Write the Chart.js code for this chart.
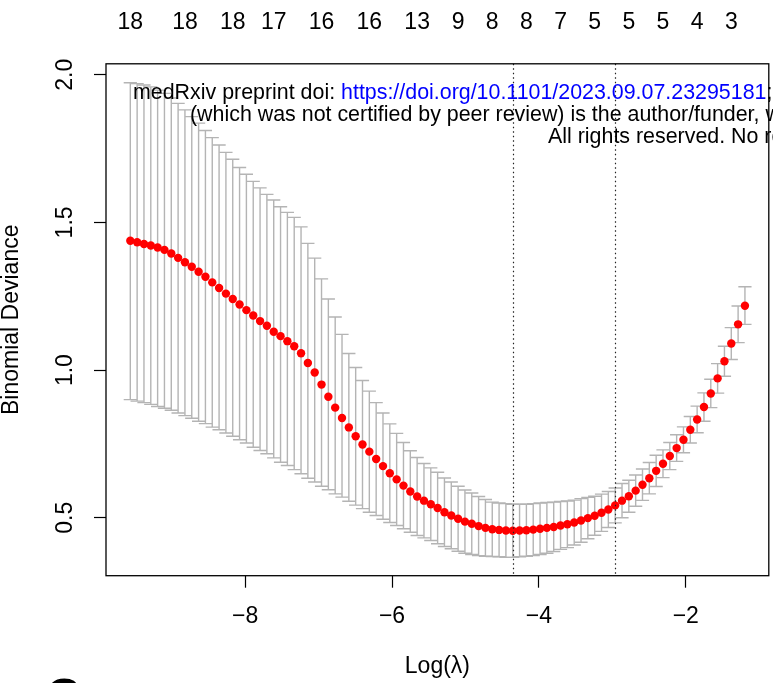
<!DOCTYPE html>
<html>
<head>
<meta charset="utf-8">
<title>cv.glmnet binomial deviance</title>
<script src="https://cdn.jsdelivr.net/npm/chart.js@4.4.1/dist/chart.umd.min.js"></script>
<style>
    html, body { margin: 0; padding: 0; background: #fff; }
    #wrap { width: 773px; height: 683px; }
</style>
</head>
<body>
<div id="wrap"><canvas id="cv" width="773" height="683"></canvas></div>
<script>
// Data
const logLambda = [
    -9.564, -9.471, -9.378, -9.285, -9.192, -9.099, -9.006, -8.913, -8.820, -8.727,
    -8.634, -8.541, -8.448, -8.355, -8.262, -8.169, -8.076, -7.983, -7.890, -7.797,
    -7.704, -7.611, -7.518, -7.425, -7.332, -7.239, -7.146, -7.053, -6.960, -6.867,
    -6.774, -6.681, -6.588, -6.495, -6.402, -6.309, -6.216, -6.123, -6.030, -5.937,
    -5.844, -5.751, -5.658, -5.565, -5.472, -5.379, -5.286, -5.193, -5.100, -5.007,
    -4.914, -4.821, -4.728, -4.635, -4.542, -4.449, -4.356, -4.263, -4.170, -4.077,
    -3.984, -3.891, -3.798, -3.705, -3.612, -3.519, -3.426, -3.333, -3.240, -3.147,
    -3.054, -2.961, -2.868, -2.775, -2.682, -2.589, -2.496, -2.403, -2.310, -2.217,
    -2.124, -2.031, -1.938, -1.845, -1.752, -1.659, -1.566, -1.473, -1.380, -1.287,
    -1.194
];

const cvMean = [
    1.438, 1.433, 1.427, 1.422, 1.415, 1.407, 1.395, 1.380, 1.365, 1.350,
    1.333, 1.316, 1.297, 1.278, 1.259, 1.241, 1.222, 1.203, 1.185, 1.166,
    1.150, 1.130, 1.115, 1.098, 1.081, 1.057, 1.024, 0.992, 0.951, 0.910,
    0.873, 0.838, 0.806, 0.776, 0.748, 0.724, 0.699, 0.675, 0.651, 0.630,
    0.609, 0.589, 0.572, 0.558, 0.546, 0.533, 0.519, 0.508, 0.497, 0.487,
    0.480, 0.472, 0.466, 0.461, 0.459, 0.457, 0.456, 0.457, 0.458, 0.460,
    0.463, 0.466, 0.469, 0.474, 0.478, 0.484, 0.491, 0.499, 0.507, 0.517,
    0.528, 0.542, 0.558, 0.573, 0.592, 0.612, 0.634, 0.659, 0.683, 0.709,
    0.736, 0.764, 0.798, 0.833, 0.875, 0.921, 0.972, 1.030, 1.090, 1.155,
    1.218
];

const cvUpper = [
    1.973, 1.970, 1.965, 1.959, 1.948, 1.937, 1.921, 1.903, 1.881, 1.858,
    1.836, 1.811, 1.787, 1.762, 1.737, 1.714, 1.686, 1.663, 1.639, 1.617,
    1.595, 1.576, 1.553, 1.534, 1.517, 1.485, 1.429, 1.379, 1.309, 1.241,
    1.180, 1.121, 1.056, 1.009, 0.965, 0.929, 0.890, 0.855, 0.818, 0.786,
    0.755, 0.727, 0.704, 0.684, 0.669, 0.654, 0.635, 0.621, 0.607, 0.594,
    0.584, 0.572, 0.562, 0.553, 0.550, 0.548, 0.546, 0.546, 0.546, 0.548,
    0.550, 0.552, 0.553, 0.555, 0.557, 0.560, 0.565, 0.569, 0.573, 0.580,
    0.589, 0.601, 0.616, 0.627, 0.645, 0.665, 0.687, 0.712, 0.730, 0.755,
    0.781, 0.808, 0.843, 0.878, 0.923, 0.969, 1.022, 1.081, 1.144, 1.217,
    1.282
];

const cvLower = [
    0.900, 0.895, 0.890, 0.884, 0.877, 0.871, 0.864, 0.855, 0.846, 0.837,
    0.827, 0.819, 0.807, 0.798, 0.787, 0.776, 0.764, 0.753, 0.739, 0.728,
    0.717, 0.703, 0.688, 0.677, 0.663, 0.649, 0.634, 0.621, 0.607, 0.595,
    0.581, 0.570, 0.556, 0.543, 0.531, 0.519, 0.508, 0.495, 0.484, 0.474,
    0.463, 0.451, 0.440, 0.432, 0.423, 0.412, 0.403, 0.395, 0.387, 0.380,
    0.376, 0.372, 0.370, 0.369, 0.368, 0.366, 0.366, 0.368, 0.370, 0.372,
    0.376, 0.380, 0.386, 0.393, 0.399, 0.408, 0.417, 0.429, 0.441, 0.454,
    0.467, 0.483, 0.500, 0.519, 0.539, 0.559, 0.581, 0.606, 0.636, 0.663,
    0.691, 0.720, 0.753, 0.788, 0.827, 0.873, 0.922, 0.979, 1.036, 1.093,
    1.155
];

// number of non-zero coefficients shown on the top axis
const nzAt = [-9.564, -8.820, -8.169, -7.611, -6.960, -6.309, -5.658, -5.100,
              -4.635, -4.170, -3.705, -3.240, -2.775, -2.310, -1.845, -1.380];
const nzLabels = ['18', '18', '18', '17', '16', '16', '13', '9',
                  '8', '8', '7', '5', '5', '5', '4', '3'];

const xTicks = [-8, -6, -4, -2];
const yTicks = [0.5, 1.0, 1.5, 2.0];

const lambdaMin = -4.356;
const lambda1se = -2.961;

// Look
const FONT = '"Liberation Sans", Arial, Helvetica, sans-serif';
const AXIS_FONT = { family: FONT, size: 23 };
const BAR_COLOR = '#b4b4b4';
const CAP_HALF = 0.09; // half cap width, in log(lambda) units

const minus = v => (v < 0 ? '\u2212' + Math.abs(v) : String(v));

// error bars go under the points
const errorBars = {
    id: 'errorBars',
    beforeDatasetsDraw(chart) {
        const { ctx, scales: { x, y } } = chart;
        ctx.save();
        ctx.strokeStyle = BAR_COLOR;
        ctx.lineWidth = 1.4;
        logLambda.forEach((v, i) => {
            const px = x.getPixelForValue(v);
            const x0 = x.getPixelForValue(v - CAP_HALF);
            const x1 = x.getPixelForValue(v + CAP_HALF);
            const top = y.getPixelForValue(cvUpper[i]);
            const bot = y.getPixelForValue(cvLower[i]);
            ctx.beginPath();
            ctx.moveTo(px, top); ctx.lineTo(px, bot);
            ctx.moveTo(x0, top); ctx.lineTo(x1, top);
            ctx.moveTo(x0, bot); ctx.lineTo(x1, bot);
            ctx.stroke();
        });
        ctx.restore();
    }
};

// dotted lambda lines, box, rotated y labels, watermark
const decorations = {
    id: 'decorations',
    afterDatasetsDraw(chart) {
        const { ctx, chartArea: a, scales: { x, y } } = chart;
        ctx.save();
        ctx.strokeStyle = '#222';
        ctx.lineWidth = 1.2;
        ctx.setLineDash([1.5, 3]);
        [lambdaMin, lambda1se].forEach(v => {
            const px = Math.round(x.getPixelForValue(v)) + 0.5;
            ctx.beginPath();
            ctx.moveTo(px, a.top);
            ctx.lineTo(px, a.bottom);
            ctx.stroke();
        });
        ctx.setLineDash([]);

        ctx.strokeStyle = '#000';
        ctx.lineWidth = 1.3;
        ctx.strokeRect(a.left, a.top, a.right - a.left, a.bottom - a.top);

        ctx.fillStyle = '#000';
        ctx.font = `${AXIS_FONT.size}px ${FONT}`;
        ctx.textAlign = 'center';
        ctx.textBaseline = 'middle';
        yTicks.forEach(v => {
            ctx.save();
            ctx.translate(66, y.getPixelForValue(v));
            ctx.rotate(-Math.PI / 2);
            ctx.fillText(v.toFixed(1), 0, 0);
            ctx.restore();
        });
        ctx.restore();
    },
    afterDraw(chart) {
        const { ctx } = chart;
        ctx.save();
        ctx.font = `21.4px ${FONT}`;
        ctx.textAlign = 'left';
        ctx.textBaseline = 'alphabetic';

        const pre = 'medRxiv preprint doi: ';
        const url = 'https://doi.org/10.1101/2023.09.07.23295181';
        let tx = 133;
        ctx.fillStyle = '#000';
        ctx.fillText(pre, tx, 99);
        tx += ctx.measureText(pre).width;
        ctx.fillStyle = '#0000ff';
        ctx.fillText(url, tx, 99);
        tx += ctx.measureText(url).width;
        ctx.fillStyle = '#000';
        ctx.fillText('; this version posted', tx, 99);

        ctx.fillText('(which was not certified by peer review) is the author/funder, who', 190, 121);
        ctx.fillText('All rights reserved. No reuse', 548, 142.5);

        // panel letter peeking in at the bottom
        ctx.font = `bold 48px ${FONT}`;
        ctx.fillText('C', 46, 712);
        ctx.restore();
    }
};

const ctx = document.getElementById('cv').getContext('2d');
new Chart(ctx, {
    type: 'scatter',
    data: {
        datasets: [{
            data: logLambda.map((v, i) => ({ x: v, y: cvMean[i] })),
            backgroundColor: '#ff0000',
            borderWidth: 0,
            pointRadius: 4.2,
            xAxisID: 'x',
            yAxisID: 'y'
        }]
    },
    options: {
        responsive: false,
        animation: false,
        layout: { padding: { top: 0, right: 1.3, bottom: 0, left: 0 } },
        plugins: {
            legend: { display: false },
            tooltip: { enabled: false }
        },
        scales: {
            x: {
                type: 'linear',
                position: 'bottom',
                min: -9.895,
                max: -0.869,
                afterBuildTicks: s => { s.ticks = xTicks.map(value => ({ value })); },
                afterFit: s => { s.height = 107.3; },
                border: { display: false },
                grid: { drawOnChartArea: false, drawTicks: true, tickLength: 12, tickColor: '#000', tickWidth: 1.2 },
                ticks: {
                    autoSkip: false, maxRotation: 0, padding: 15,
                    color: '#000', font: AXIS_FONT,
                    callback: v => minus(v)
                },
                title: {
                    display: true, text: 'Log(\u03bb)', color: '#000',
                    font: AXIS_FONT, padding: { top: 0, bottom: 3 }
                }
            },
            x2: {
                type: 'linear',
                position: 'top',
                min: -9.895,
                max: -0.869,
                afterBuildTicks: s => { s.ticks = nzAt.map(value => ({ value })); },
                afterFit: s => { s.height = 63.8; },
                border: { display: false },
                grid: { display: false, drawTicks: false },
                ticks: {
                    autoSkip: false, maxRotation: 0, padding: 27,
                    color: '#000', font: AXIS_FONT,
                    callback: (v, i) => nzLabels[i]
                }
            },
            y: {
                type: 'linear',
                position: 'left',
                min: 0.304,
                max: 2.037,
                afterBuildTicks: s => { s.ticks = yTicks.map(value => ({ value })); },
                afterFit: s => { s.width = 106; },
                border: { display: false },
                grid: { drawOnChartArea: false, drawTicks: true, tickLength: 12, tickColor: '#000', tickWidth: 1.2 },
                ticks: { display: false },
                title: {
                    display: true, text: 'Binomial Deviance', color: '#000',
                    font: { family: FONT, size: 23, lineHeight: 1 }, padding: { top: 0, bottom: 0 }
                }
            }
        }
    },
    plugins: [errorBars, decorations]
});
</script>
</body>
</html>
